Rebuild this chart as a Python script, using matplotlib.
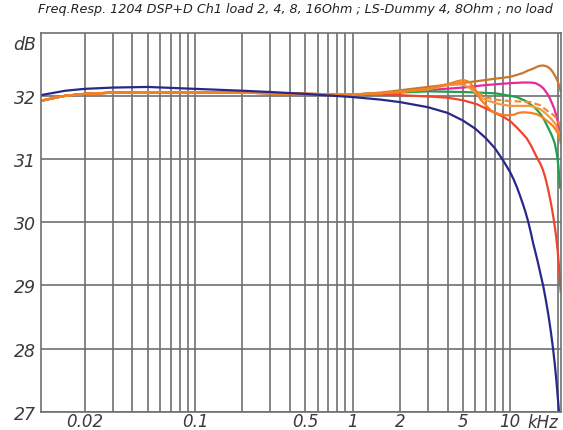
import numpy as np
import matplotlib
matplotlib.use("Agg")
import matplotlib.pyplot as plt

# ------------------------------------------------------------
#  Datos (frecuencia en kHz, nivel en dB)
# ------------------------------------------------------------
f_blue = [0.0105, 0.015, 0.02, 0.03, 0.05, 0.1, 0.2, 0.3, 0.5, 1.0, 1.5, 2.0, 3.0,
          4.0, 5.0, 6.0, 7.0, 8.0, 9.0, 10.0, 10.5, 11.0, 11.5, 12.1, 12.5, 13.0,
          13.5, 14.0, 14.5, 15.0, 15.5, 16.2, 16.8, 17.5, 18.1, 18.7, 19.2, 19.7,
          20.3, 20.8]
db_blue = [32.01, 32.08, 32.11, 32.13, 32.14, 32.11, 32.08, 32.06, 32.03, 31.98,
           31.94, 31.90, 31.82, 31.73, 31.61, 31.48, 31.33, 31.17, 30.98, 30.79,
           30.68, 30.56, 30.43, 30.27, 30.16, 30.01, 29.84, 29.66, 29.51, 29.36,
           29.20, 28.99, 28.78, 28.52, 28.27, 28.00, 27.74, 27.45, 27.06, 26.70]

# tramo comun de baja frecuencia de las demas curvas
f_low = [0.0105, 0.013, 0.015, 0.02, 0.03, 0.05, 0.1, 0.2, 0.5, 1.0]
db_low = [31.92, 31.97, 32.00, 32.03, 32.05, 32.055, 32.055, 32.05, 32.03, 32.02]

f_red = [1.5, 2.0, 3.0, 4.0, 5.0, 6.1, 7.0, 8.0, 9.0, 10.0, 11.0, 12.0, 12.7,
         13.5, 14.2, 15.0, 15.5, 16.0, 16.5, 17.0, 17.5, 18.0, 18.5, 19.0, 19.5,
         20.0, 20.4, 20.9]
db_red = [32.02, 32.01, 31.99, 31.97, 31.93, 31.87, 31.80, 31.73, 31.67, 31.60,
          31.50, 31.40, 31.33, 31.22, 31.11, 30.99, 30.93, 30.85, 30.75, 30.63,
          30.49, 30.34, 30.18, 30.00, 29.80, 29.55, 29.30, 28.90]

f_green = [1.5, 3.0, 5.0, 8.0, 10.0, 11.0, 12.5, 13.5, 14.2, 15.0, 15.8, 16.5,
           17.2, 18.0, 18.6, 19.2, 19.7, 20.2, 20.7]
db_green = [32.04, 32.07, 32.06, 32.04, 32.00, 31.98, 31.92, 31.86, 31.82, 31.76,
            31.69, 31.61, 31.52, 31.42, 31.34, 31.24, 31.10, 30.90, 30.55]

f_magenta = [1.5, 3.0, 5.0, 7.0, 10.0, 12.0, 13.4, 14.5, 15.5, 16.2, 17.0, 17.5,
             18.0, 18.5, 19.0, 19.5, 20.0, 20.4, 20.8]
db_magenta = [32.04, 32.09, 32.13, 32.17, 32.20, 32.21, 32.21, 32.20, 32.16,
              32.12, 32.05, 32.00, 31.94, 31.87, 31.80, 31.71, 31.60, 31.48, 31.35]

f_brown = [1.5, 3.0, 4.5, 6.1, 8.0, 10.0, 11.0, 12.0, 13.0, 14.0, 14.8, 15.5,
           16.2, 16.8, 17.5, 18.2, 18.8, 19.4, 20.0, 20.5, 20.9]
db_brown = [32.05, 32.14, 32.19, 32.23, 32.27, 32.30, 32.33, 32.36, 32.40, 32.43,
            32.46, 32.475, 32.48, 32.47, 32.45, 32.41, 32.36, 32.30, 32.23, 32.15,
            32.07]

f_orange = [1.5, 2.0, 3.0, 4.0, 4.6, 5.05, 5.5, 6.0, 6.45, 7.0, 7.6, 8.5, 9.5,
            10.5, 11.3, 12.1, 13.5, 14.7, 15.8, 16.8, 17.8, 18.7, 19.6, 20.4, 20.9]
db_orange = [32.04, 32.06, 32.11, 32.18, 32.23, 32.25, 32.22, 32.10, 31.95,
             31.85, 31.76, 31.71, 31.69, 31.70, 31.73, 31.74, 31.73, 31.71,
             31.67, 31.62, 31.57, 31.52, 31.45, 31.37, 31.25]

f_orange2 = [1.5, 3.0, 4.0, 5.0, 5.5, 6.0, 7.0, 8.5, 10.0, 13.5, 15.5, 17.0,
             18.3, 19.5, 20.3, 20.9]
db_orange2 = [32.04, 32.10, 32.17, 32.18, 32.13, 32.05, 31.93, 31.87, 31.84,
              31.84, 31.79, 31.71, 31.63, 31.54, 31.43, 31.30]

f_dash = [1.5, 3.0, 4.0, 5.0, 5.8, 6.9, 8.0, 9.5, 11.5, 13.4, 15.5, 17.0, 18.5,
          20.0, 20.9]
db_dash = [32.04, 32.10, 32.19, 32.20, 32.11, 31.98, 31.94, 31.92, 31.91, 31.90,
           31.85, 31.77, 31.71, 31.63, 31.50]

xt_major = [0.02, 0.1, 0.5, 1, 2, 5, 10]
xt_labels = ["0.02", "0.1", "0.5", "1", "2", "5", "10"]
xt_minor = [0.03, 0.04, 0.05, 0.06, 0.07, 0.08, 0.09,
            0.2, 0.3, 0.4, 0.6, 0.7, 0.8, 0.9,
            3, 4, 6, 7, 8, 9, 20]
yt = [27, 28, 29, 30, 31, 32]

titulo = "Freq.Resp. 1204 DSP+D Ch1 load 2, 4, 8, 16Ohm ; LS-Dummy 4, 8Ohm ; no load"

# ------------------------------------------------------------
#   Figura
# ------------------------------------------------------------
W, H = 563, 431
fig = plt.figure(figsize=(W / 100, H / 100), dpi=100)
ax = fig.add_axes([40.5 / W, 18.2 / H, (561 - 40.5) / W, (412.8 - 33.6) / H])

ax.set_xscale("log")
ax.set_xlim(0.01046, 21.0)
ax.set_ylim(27, 33)

gris = "#707070"
ax.set_xticks(xt_major)
ax.set_xticks(xt_minor, minor=True)
ax.set_xticklabels(xt_labels)
ax.set_xticklabels([], minor=True)
ax.set_yticks(yt)
ax.tick_params(which="both", length=0)
ax.tick_params(axis="x", labelsize=12, pad=0)
ax.tick_params(axis="y", labelsize=12.5, pad=3)
for lab in ax.get_xticklabels() + ax.get_yticklabels():
    lab.set_fontstyle("italic")
    lab.set_color("#3a3a3a")
ax.grid(True, which="both", color=gris, linewidth=1.2)
for s in ax.spines.values():
    s.set_color(gris)
    s.set_linewidth(1.2)

lw = 1.6
ax.plot(f_low + f_brown, db_low + db_brown, color="#c8782c", lw=lw)
ax.plot(f_low + f_magenta, db_low + db_magenta, color="#e8279a", lw=lw)
ax.plot(f_low + f_green, db_low + db_green, color="#1ea04c", lw=lw)
ax.plot(f_low + f_red, db_low + db_red, color="#f2442c", lw=lw)
ax.plot(f_low + f_orange2, db_low + db_orange2, color="#f39a40", lw=lw)
ax.plot(f_low + f_dash, db_low + db_dash, color="#f28a34", lw=lw, ls=(0, (3, 1.5)))
ax.plot(f_low + f_orange, db_low + db_orange, color="#f5801e", lw=lw)
ax.plot(f_blue, db_blue, color="#28288a", lw=lw)

# --- titulo: se ajusta el tamaño para que ocupe ~518 px de ancho ---
t = fig.text(38.5 / W, 1 - 10 / H, titulo, fontsize=10.5, fontstyle="italic",
             family=["Liberation Sans Narrow", "DejaVu Sans"],
             color="#222222", va="center", ha="left")
r = fig.canvas.get_renderer()
ancho = t.get_window_extent(renderer=r).width
t.set_fontsize(10.5 * 518.0 / ancho)

fig.text(36 / W, 1 - 44.5 / H, "dB", fontsize=12.5, fontstyle="italic",
         color="#3a3a3a", va="center", ha="right")
fig.text(527 / W, 1 - 423 / H, "kHz", fontsize=12, fontstyle="italic",
         color="#3a3a3a", va="center", ha="left")

fig.savefig("out.png", dpi=100)
